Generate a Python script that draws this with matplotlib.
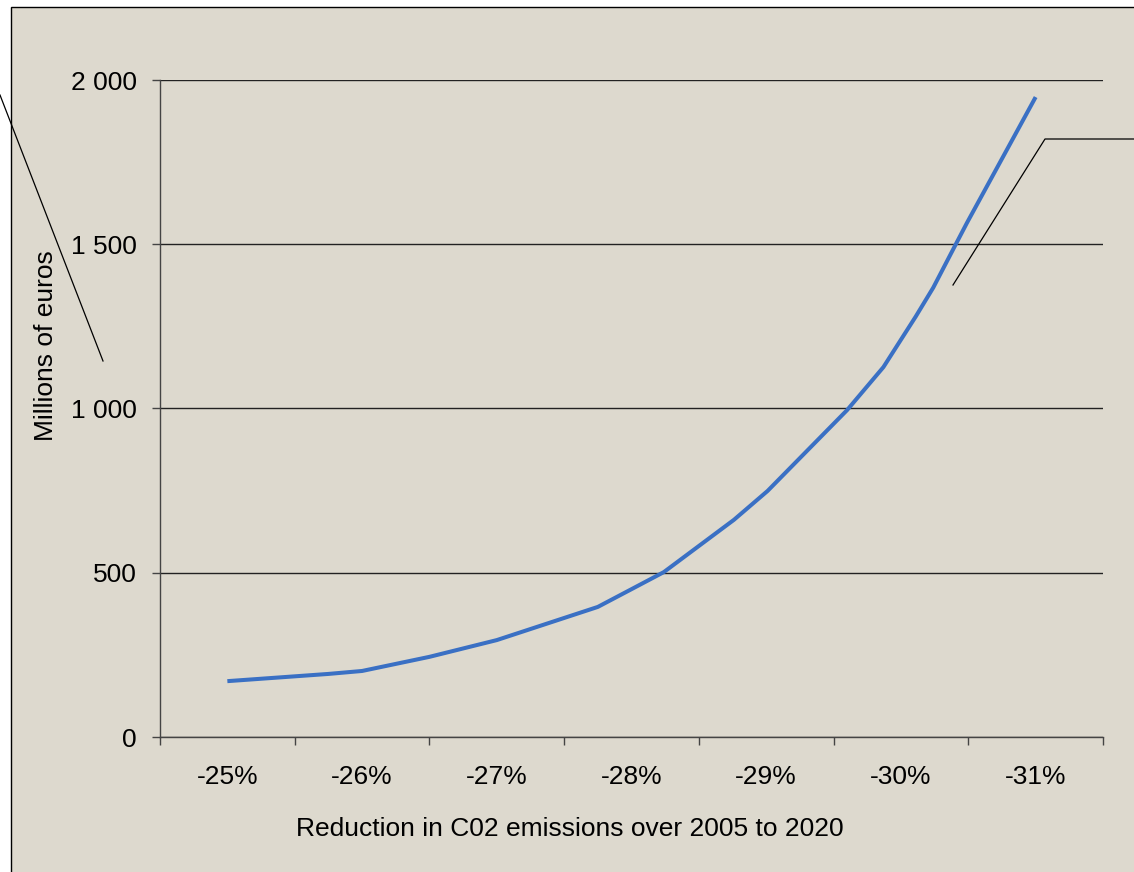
import matplotlib
matplotlib.use("Agg")
import matplotlib.pyplot as plt
from matplotlib.lines import Line2D
from matplotlib.patches import Rectangle
from matplotlib.ticker import FixedLocator, NullFormatter, FixedFormatter

# Abatement cost curve: reduction in CO2 emissions (%) vs. cost (millions of euros)
reduction_pct = [-25.00, -25.75, -26.00, -26.50, -27.00, -27.75, -28.00, -28.24,
                 -28.76, -29.01, -29.60, -29.87, -30.11, -30.24, -30.42, -30.49, -31.00]
cost_meur = [170, 192, 201, 244, 295, 396, 450, 502,
             661, 749, 995, 1126, 1280, 1368, 1510, 1565, 1948]

x_labels = ["-25%", "-26%", "-27%", "-28%", "-29%", "-30%", "-31%"]
x_label_pos = [-25, -26, -27, -28, -29, -30, -31]
y_ticks = [0, 500, 1000, 1500, 2000]
y_tick_labels = ["0", "500", "1 000", "1 500", "2 000"]

W, H = 1134, 872
BG = "#DDD9CE"
FONT = "Liberation Sans"
FS = 19.0

fig = plt.figure(figsize=(W / 100, H / 100), dpi=100, facecolor="white")

# chart area panel with its frame
panel = Rectangle((11 / W, -0.05), 1.2, 1 - 7 / H + 0.05, transform=fig.transFigure,
                  facecolor=BG, edgecolor="black", linewidth=1.0, zorder=0)
fig.add_artist(panel)

ax = fig.add_axes([160 / W, 1 - 737 / H, (1103 - 160) / W, (737 - 80) / H])
ax.set_facecolor("none")

ax.plot(reduction_pct, cost_meur, color="#3A70C4", linewidth=2.9,
        solid_joinstyle="round", solid_capstyle="butt", zorder=3)

ax.set_xlim(-24.5, -31.5)
ax.set_ylim(0, 2000)

# category boundaries carry the tick marks, labels sit between them
ax.xaxis.set_major_locator(FixedLocator([-24.5 - i for i in range(8)]))
ax.xaxis.set_major_formatter(NullFormatter())
ax.xaxis.set_minor_locator(FixedLocator(x_label_pos))
ax.xaxis.set_minor_formatter(FixedFormatter(x_labels))
ax.tick_params(axis="x", which="major", direction="out", length=6, width=1, color="#444444")
ax.tick_params(axis="x", which="minor", length=0, pad=20, labelsize=FS)

ax.set_yticks(y_ticks)
ax.set_yticklabels(y_tick_labels)
ax.tick_params(axis="y", direction="out", length=6, width=1, color="#444444", pad=10.5,
               labelsize=FS)

for lab in ax.get_xticklabels(minor=True) + ax.get_yticklabels():
    lab.set_fontfamily(FONT)

ax.yaxis.grid(True, color="#222222", linewidth=1.0)
ax.set_axisbelow(True)
for side in ("top", "right"):
    ax.spines[side].set_visible(False)
for side in ("left", "bottom"):
    ax.spines[side].set_color("#444444")
    ax.spines[side].set_linewidth(1.0)

ax.set_xlabel("Reduction in C02 emissions over 2005 to 2020", fontsize=FS, fontfamily=FONT)
ax.xaxis.set_label_coords(0.435, -0.122)
ax.xaxis.label.set_va("top")
ax.set_ylabel("Millions of euros", fontsize=FS, fontfamily=FONT)
ax.yaxis.set_label_coords(-0.108, 0.595)

# leader lines
def px_line(xs, ys):
    fig.add_artist(Line2D([x / W for x in xs], [1 - y / H for y in ys],
                          transform=fig.transFigure, color="black", linewidth=0.9, zorder=5))

px_line([0, 103], [95, 361])
px_line([953, 1045, 1134], [285, 139, 139])

fig.savefig("out.png", dpi=100, facecolor="white")
